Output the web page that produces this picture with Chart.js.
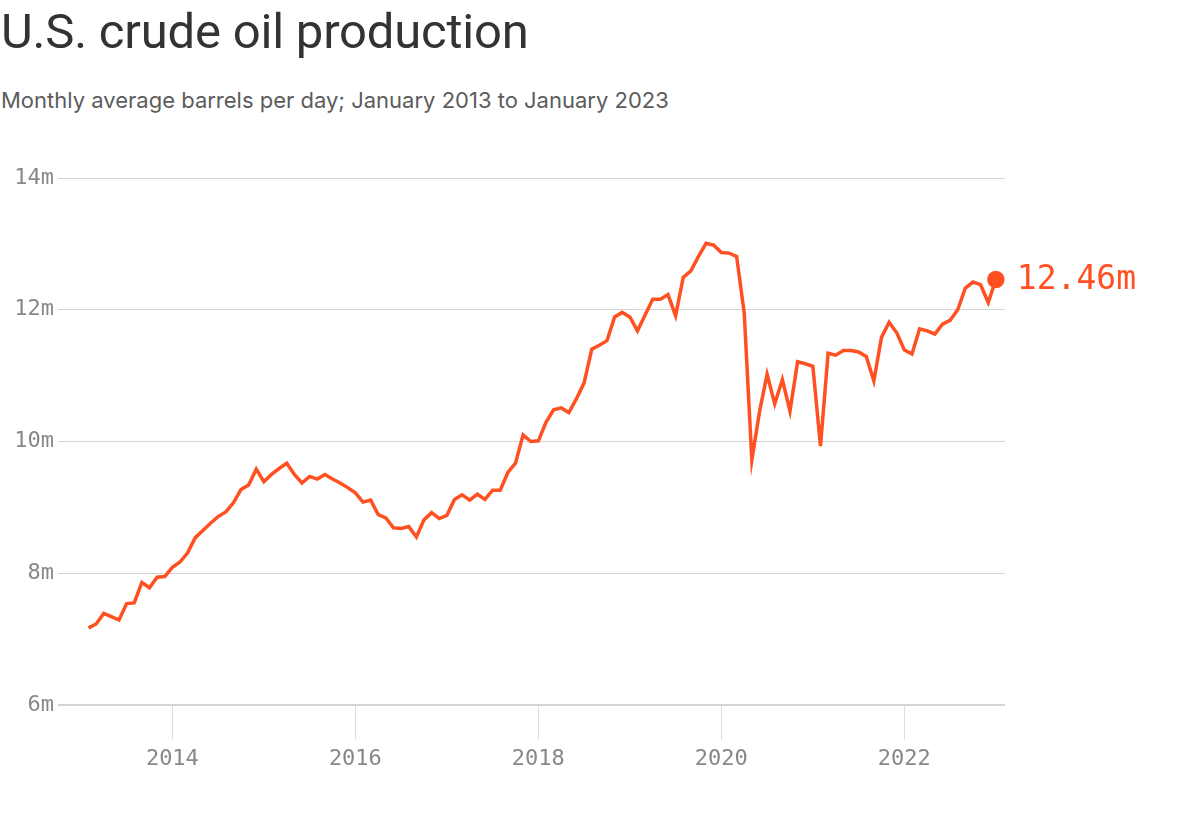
<!DOCTYPE html>
<html>
<head>
<meta charset="utf-8">
<script src="https://cdn.jsdelivr.net/npm/chart.js@4.4.1/dist/chart.umd.min.js"></script>
<style>
  html, body { margin: 0; padding: 0; background: #fff; }
  #wrap { position: relative; width: 1204px; height: 816px; overflow: hidden; }
  h1 {
    position: absolute; left: 1px; top: 4px; margin: 0;
    font-family: Roboto, "Noto Sans", sans-serif; font-weight: 400;
    font-size: 49px; letter-spacing: -0.2px; color: #333;
    line-height: 56px; white-space: nowrap;
  }
  p.sub {
    position: absolute; left: 1px; top: 86px; margin: 0;
    font-family: Inter, Roboto, sans-serif; font-weight: 400;
    font-size: 22px; letter-spacing: 0px; color: #5c5c5c;
    line-height: 28px; white-space: nowrap;
  }
  canvas { position: absolute; left: 0; top: 0; }
</style>
</head>
<body>
<div id="wrap">
  <h1>U.S. crude oil production</h1>
  <p class="sub">Monthly average barrels per day; January 2013 to January 2023</p>
  <canvas id="chart" width="1204" height="816"></canvas>
</div>
<script>
// Feb 2013 .. Jan 2023, million barrels per day
const startYear = 2013;
const startMonth = 2;
const production = [
  7.17, 7.23, 7.39, 7.34, 7.29, 7.54, 7.55, 7.86, 7.78, 7.94, 7.95,
  8.09, 8.17, 8.31, 8.54, 8.65, 8.76, 8.86, 8.93, 9.07, 9.27, 9.34, 9.58,
  9.39, 9.50, 9.59, 9.67, 9.50, 9.37, 9.47, 9.43, 9.50, 9.43, 9.37, 9.30,
  9.22, 9.08, 9.11, 8.89, 8.84, 8.69, 8.68, 8.71, 8.55, 8.81, 8.92, 8.83,
  8.88, 9.12, 9.19, 9.11, 9.20, 9.12, 9.26, 9.26, 9.53, 9.67, 10.10, 10.00,
  10.01, 10.29, 10.48, 10.51, 10.44, 10.65, 10.89, 11.40, 11.46, 11.53, 11.89, 11.96,
  11.89, 11.68, 11.92, 12.16, 12.16, 12.23, 11.91, 12.49, 12.59, 12.81, 13.01, 12.98,
  12.87, 12.86, 12.81, 11.95, 9.72, 10.45, 11.02, 10.57, 10.94, 10.46, 11.21, 11.18,
  11.14, 9.93, 11.34, 11.31, 11.38, 11.38, 11.36, 11.29, 10.92, 11.58, 11.81, 11.65,
  11.39, 11.33, 11.71, 11.68, 11.63, 11.78, 11.84, 12.00, 12.33, 12.42, 12.38, 12.11,
  12.46
];
const yTicks = [6, 8, 10, 12, 14];
const xTicks = [2014, 2016, 2018, 2020, 2022];

const orange = '#ff5021';
const mono = '"DejaVu Sans Mono", "Liberation Mono", monospace';

const points = production.map((v, i) => ({
  x: startYear + (startMonth - 1 + i) / 12,
  y: v
}));
const lastIdx = points.length - 1;

const endLabel = {
  id: 'endLabel',
  afterDatasetsDraw(chart) {
    const pt = chart.getDatasetMeta(0).data[lastIdx];
    const ctx = chart.ctx;
    ctx.save();
    ctx.font = '33px ' + mono;
    ctx.fillStyle = orange;
    ctx.textAlign = 'left';
    ctx.textBaseline = 'middle';
    ctx.fillText(production[lastIdx].toFixed(2) + 'm', pt.x + 21, pt.y + 1);
    ctx.restore();
  }
};

new Chart(document.getElementById('chart'), {
  type: 'line',
  data: {
    datasets: [{
      data: points,
      borderColor: orange,
      backgroundColor: orange,
      borderWidth: 3.5,
      tension: 0,
      pointRadius: points.map((p, i) => i === lastIdx ? 7 : 0),
      pointHoverRadius: 0,
      clip: false
    }]
  },
  options: {
    responsive: false,
    animation: false,
    events: [],
    layout: { padding: { top: 178, right: 199, left: 0, bottom: 0 } },
    plugins: { legend: { display: false }, tooltip: { enabled: false } },
    scales: {
      x: {
        type: 'linear',
        min: 2012.75,
        max: 2023.1,
        afterBuildTicks: s => { s.ticks = xTicks.map(v => ({ value: v })); },
        afterFit: s => { s.height = 111; },
        border: { display: false },
        grid: { drawOnChartArea: false, drawTicks: true, tickLength: 35, color: '#dcdcdc' },
        ticks: {
          color: '#888',
          font: { family: mono, size: 22 },
          padding: 6,
          maxRotation: 0,
          callback: v => String(v)
        }
      },
      y: {
        min: 6,
        max: 14,
        afterBuildTicks: s => { s.ticks = yTicks.map(v => ({ value: v })); },
        afterFit: s => { s.width = 58; },
        border: { display: false },
        grid: {
          drawTicks: false,
          color: '#d4d4d4',
          lineWidth: ctx => ctx.tick && ctx.tick.value === 6 ? 2 : 1
        },
        ticks: {
          color: '#888',
          font: { family: mono, size: 22 },
          padding: 4,
          callback: v => v + 'm'
        }
      }
    }
  },
  plugins: [endLabel]
});
</script>
</body>
</html>
